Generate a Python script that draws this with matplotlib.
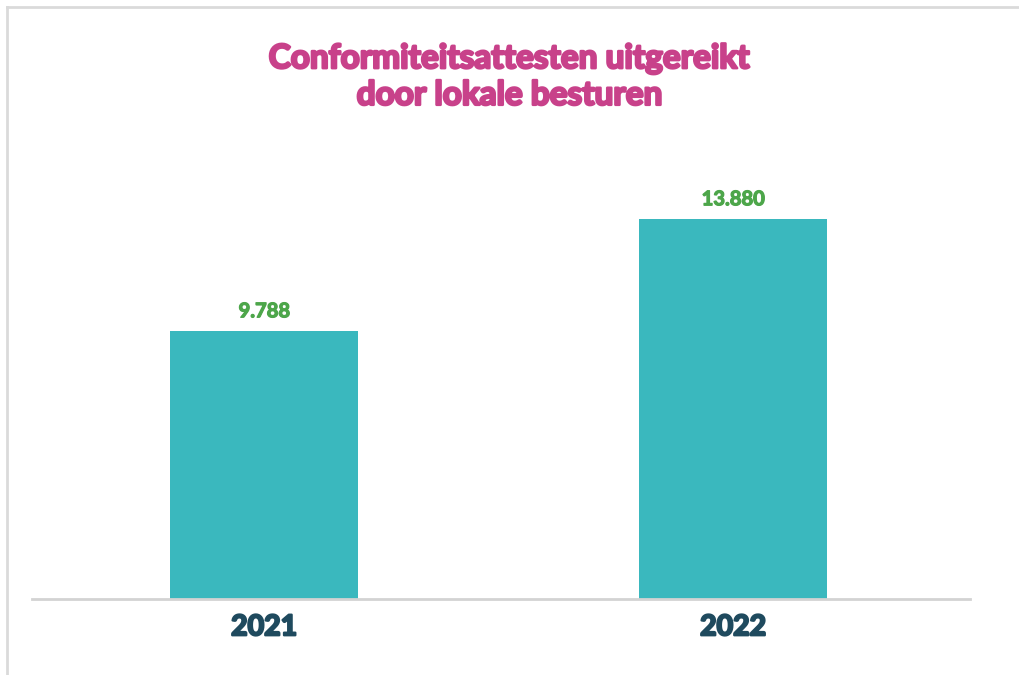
import numpy as np
import matplotlib.pyplot as plt
import matplotlib.patheffects as pe
from matplotlib.lines import Line2D

YEARS = ["2021", "2022"]
ATTESTS = [9788, 13880]
LABELS = ["9.788", "13.880"]

TITLE = "Conformiteitsattesten uitgereikt\ndoor lokale besturen"

PINK = "#C8418A"
GREEN = "#4DA64A"
NAVY = "#1F4A5E"


def heavy(color, w):
    # thicken the strokes a bit, Lato only ships up to bold here
    return [pe.withStroke(linewidth=w, foreground=color)]


W, H = 1019, 675
fig = plt.figure(figsize=(W / 100, H / 100), dpi=100)
fig.patch.set_facecolor("white")

# plot area in pixel coords: x 32..970, y 130..599 (from top)
ax = fig.add_axes([32 / W, 1 - 599 / H, 938 / W, 469 / H])
x = np.arange(len(YEARS))
ax.bar(x, ATTESTS, width=0.4, color="#3AB8BE")
ax.set_xlim(-0.495, 1.505)
ax.set_ylim(0, 17130)

for xi, v, lab in zip(x, ATTESTS, LABELS):
    ax.annotate(lab, (xi, v), xytext=(0, 7), textcoords="offset points",
                ha="center", va="bottom", color=GREEN,
                fontsize=14.5, fontweight="bold", family="Lato",
                path_effects=heavy(GREEN, 0.9))

ax.set_xticks(x, YEARS)
ax.tick_params(axis="x", length=0, pad=11, labelsize=20.5, labelcolor=NAVY)
for t in ax.get_xticklabels():
    t.set_fontweight("bold")
    t.set_family("Lato")
    t.set_path_effects(heavy(NAVY, 1.6))
ax.set_yticks([])
for s in ["top", "right", "left"]:
    ax.spines[s].set_visible(False)
ax.spines["bottom"].set_color("#D3D3D3")
ax.spines["bottom"].set_linewidth(2)

fig.text(0.5, 1 - 77 / H, TITLE, ha="center", va="center", color=PINK,
         fontsize=24, fontweight="bold", family="Lato", linespacing=1.32,
         path_effects=heavy(PINK, 1.8))

# thin frame on the top and left edges
fig.add_artist(Line2D([6.5 / W, 6.5 / W], [0, 1 - 6.5 / H], transform=fig.transFigure,
                      color="#DADADA", lw=2))
fig.add_artist(Line2D([6.5 / W, 1], [1 - 6.5 / H, 1 - 6.5 / H], transform=fig.transFigure,
                      color="#DADADA", lw=2))

fig.savefig("out.png", dpi=100)
